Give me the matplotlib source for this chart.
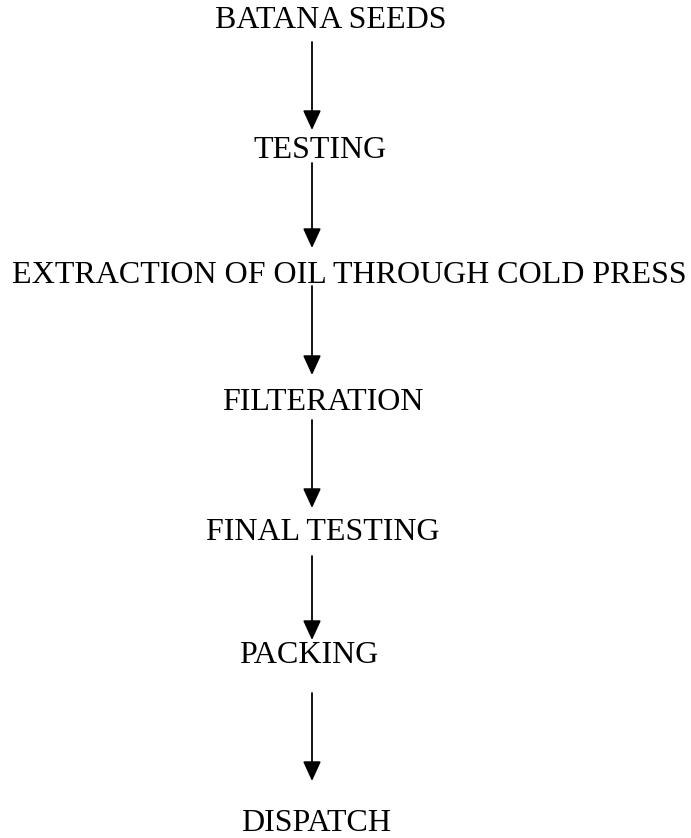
import matplotlib.pyplot as plt

# process steps, top to bottom (pixel coords of the 691x838 page)
steps = ["BATANA SEEDS", "TESTING", "EXTRACTION OF OIL THROUGH COLD PRESS",
         "FILTERATION", "FINAL TESTING", "PACKING", "DISPATCH"]
step_x = [331, 320, 349, 323, 323, 309, 316]
step_y = [20, 150, 275, 402, 532, 655, 823]

# arrows between steps: (start y, tip y), all on the same column
arrow_x = 312
arrow_start = [42, 163, 286, 420, 556, 693]
arrow_end = [130, 248, 375, 508, 640, 781]

W, H = 691, 838
fig = plt.figure(figsize=(W / 100, H / 100), dpi=100)
ax = fig.add_axes([0, 0, 1, 1])
ax.set_xlim(0, W)
ax.set_ylim(H, 0)
ax.axis("off")

for label, x, y in zip(steps, step_x, step_y):
    ax.text(x, y, label, ha="center", va="center", fontsize=23,
            family="Liberation Serif", color="black")

for y0, y1 in zip(arrow_start, arrow_end):
    ax.annotate("", xy=(arrow_x, y1), xytext=(arrow_x, y0),
                arrowprops=dict(arrowstyle="-|>,head_length=1.2,head_width=0.55",
                                color="black", lw=1.3, shrinkA=0, shrinkB=0))

fig.savefig("out.png", dpi=100, facecolor="white")
